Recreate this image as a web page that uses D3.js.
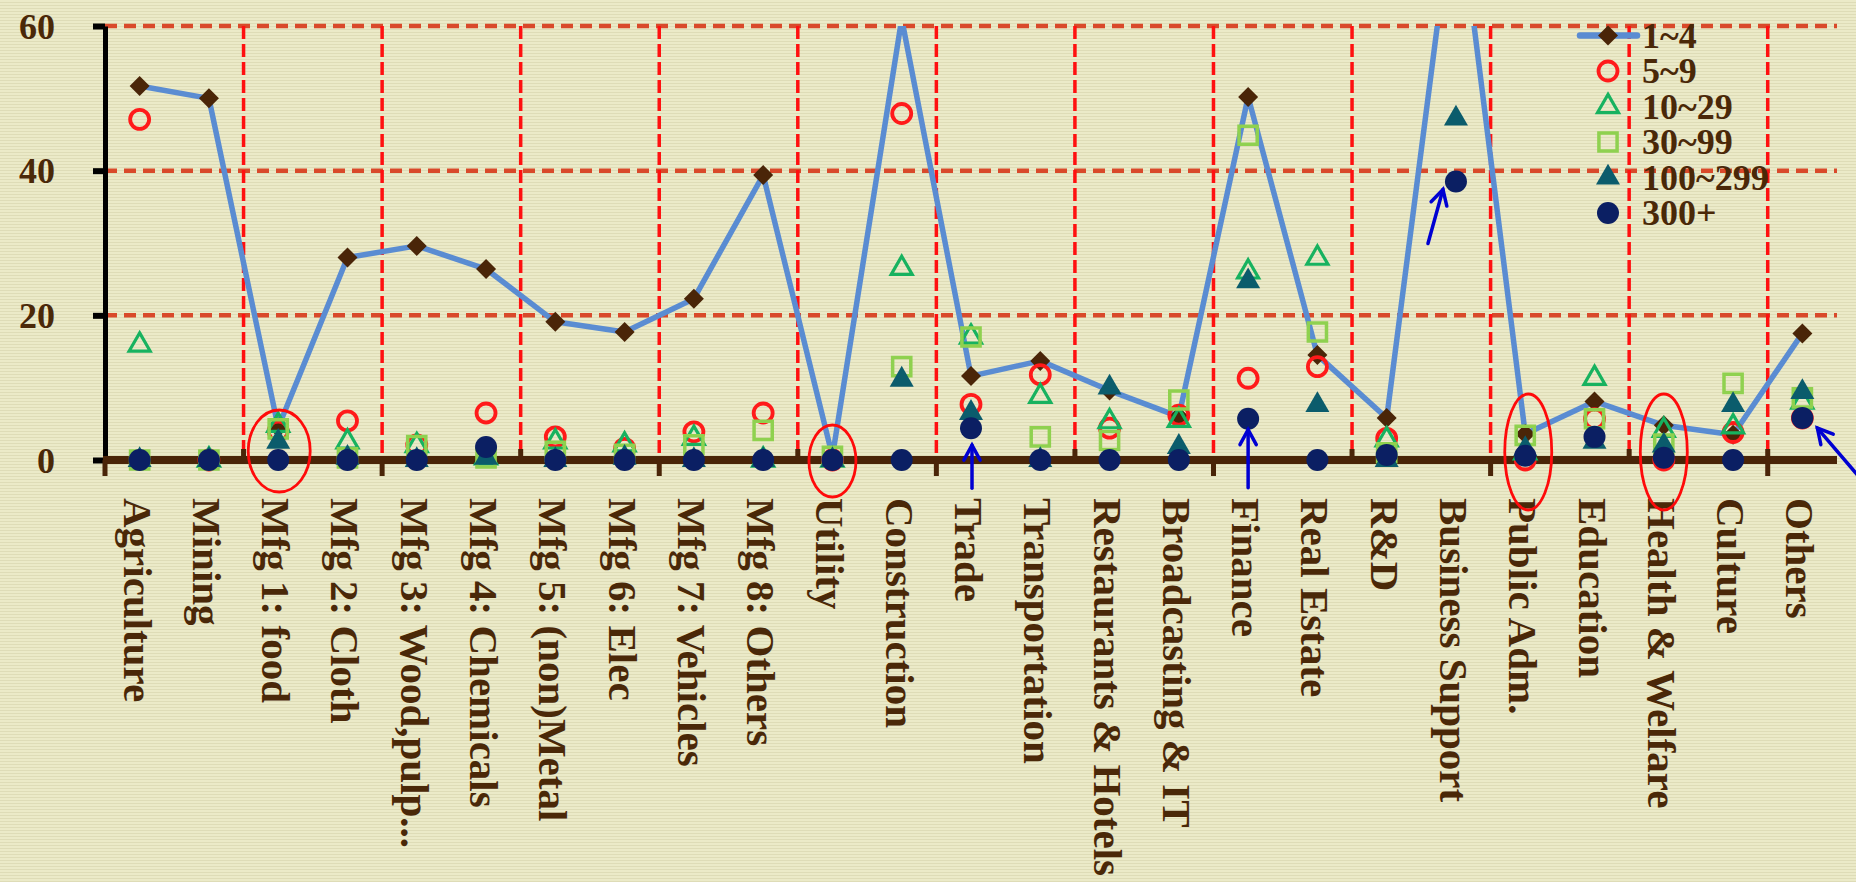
<!DOCTYPE html>
<html>
<head>
<meta charset="utf-8">
<script src="https://cdn.jsdelivr.net/npm/d3@7"></script>
<style>
  html, body { margin: 0; padding: 0; background: #eae9c7; }
  svg { display: block; }
  text { font-family: "Liberation Serif", "DejaVu Serif", serif; font-weight: bold; fill: #4a2808; }
</style>
</head>
<body>
<svg id="chart" width="1856" height="882"></svg>
<script>
// Industries on the x axis
const categories = [
  "Agriculture", "Mining", "Mfg 1: food", "Mfg 2: Cloth", "Mfg 3: Wood,pulp...",
  "Mfg 4: Chemicals", "Mfg 5: (non)Metal", "Mfg 6: Elec", "Mfg 7: Vehicles", "Mfg 8: Others",
  "Utility", "Construction", "Trade", "Transportation", "Restaurants & Hotels",
  "Broadcasting & IT", "Finance", "Real Estate", "R&D", "Business Support",
  "Public Adm.", "Education", "Health & Welfare", "Culture", "Others"
];

// Firm-size groups (number of employees)
const sizeGroups = ["1~4", "5~9", "10~29", "30~99", "100~299", "300+"];

// Values per industry for each size group
const share1to4     = [51.7, 50.0, 4.5, 28.0, 29.6, 26.4, 19.1, 17.7, 22.3, 39.4, 0.5, 61.0, 11.6, 13.7, 9.6, 6.0, 50.2, 14.5, 5.8, 80.0, 3.6, 8.1, 4.8, 3.5, 17.5];
const share5to9     = [47.1, 0, 4.0, 5.4, 2.1, 6.5, 3.2, 1.6, 3.9, 6.5, 0, 47.9, 7.7, 11.8, 4.4, 6.2, 11.3, 12.9, 3.0, 72.0, 0, 5.7, 0, 3.8, 5.8];
const share10to29   = [15.9, 0, 4.8, 2.5, 2.0, 0.3, 2.5, 2.1, 3.0, 0, 0, 26.5, 17.0, 8.8, 5.3, 5.5, 26.0, 27.9, 2.8, 68.0, 1.0, 11.3, 4.1, 4.6, 8.0];
const share30to99   = [0, 0, 4.3, 0.3, 2.0, 0.3, 1.2, 0.8, 2.1, 4.1, 0.5, 12.9, 17.0, 3.2, 2.7, 8.3, 44.9, 17.7, 1.0, 65.0, 3.4, 5.7, 2.2, 10.6, 8.6];
const share100to299 = [0, 0, 2.5, 0.3, 0, 0.3, 0, 0.3, 0, 0, 0, 11.1, 6.5, 0, 10.0, 1.8, 24.7, 7.6, 0, 47.2, 1.5, 2.5, 2.0, 7.6, 9.4];
const share300plus  = [0, 0, 0, 0, 0, 1.8, 0, 0, 0, 0, 0, 0, 4.4, 0, 0, 0, 5.7, 0, 0.7, 38.5, 0.6, 3.2, 0.3, 0, 5.8];

// Y axis ticks
const yTicks = [0, 20, 40, 60];

// Industries highlighted with a ring, and industries pointed at by an arrow
const circledIndustries = ["Mfg 1: food", "Utility", "Public Adm.", "Health & Welfare"];
const arrowIndustries = ["Trade", "Finance", "Business Support", "Others"];

// ---------------------------------------------------------------------------
const W = 1856, H = 882;
const svg = d3.select("#chart");
const defs = svg.append("defs");

const x = d3.scaleBand().domain(categories).range([105, 1837]).padding(0);
const y = d3.scaleLinear().domain([0, 60]).range([460, 26]);
const cx = c => x(c) + x.bandwidth() / 2;

// striped paper background
const pat = defs.append("pattern").attr("id", "stripes")
  .attr("patternUnits", "userSpaceOnUse").attr("width", 8).attr("height", 3);
pat.append("rect").attr("width", 8).attr("height", 3).attr("fill", "#ebeac8");
pat.append("rect").attr("y", 2).attr("width", 8).attr("height", 1).attr("fill", "#dedcb7");
svg.append("rect").attr("width", W).attr("height", H).attr("fill", "url(#stripes)");

defs.append("clipPath").attr("id", "plotClip")
  .append("rect").attr("x", 0).attr("y", y(60)).attr("width", W).attr("height", H);

// horizontal grid lines
svg.append("g").selectAll("line").data(yTicks.filter(d => d > 0)).join("line")
  .attr("x1", x.range()[0]).attr("x2", x.range()[1])
  .attr("y1", d => y(d)).attr("y2", d => y(d))
  .attr("stroke", "#d9492a").attr("stroke-width", 4.5).attr("stroke-dasharray", "12 7");

// vertical separators every two industries
const boundaries = d3.range(0, categories.length, 2);
svg.append("g").selectAll("line").data(boundaries.filter(i => i > 0)).join("line")
  .attr("x1", i => x(categories[i])).attr("x2", i => x(categories[i]))
  .attr("y1", y(60)).attr("y2", y(0))
  .attr("stroke", "#ff1010").attr("stroke-width", 3.5).attr("stroke-dasharray", "13 5");

// y axis
const yAxis = svg.append("g").attr("transform", `translate(${x.range()[0]},0)`)
  .call(d3.axisLeft(y).tickValues(yTicks).tickSize(12).tickSizeOuter(0).tickPadding(38).tickFormat(d3.format("d")));
yAxis.select(".domain").attr("stroke", "#000").attr("stroke-width", 5);
yAxis.selectAll(".tick line").attr("stroke", "#000").attr("stroke-width", 6);
yAxis.selectAll(".tick text").attr("font-size", 36).attr("dy", "0.34em");

// x axis: category labels written downwards
const xAxis = svg.append("g").attr("transform", `translate(0,${y(0)})`)
  .call(d3.axisBottom(x).tickSize(0).tickPadding(0));
xAxis.select(".domain").remove();
xAxis.selectAll(".tick text")
  .attr("font-size", 41).attr("text-anchor", "start")
  .attr("x", 0).attr("y", 16).attr("dy", null)
  .attr("transform", "translate(0,38) rotate(90)");

svg.append("line")
  .attr("x1", x.range()[0] - 2).attr("x2", x.range()[1])
  .attr("y1", y(0)).attr("y2", y(0))
  .attr("stroke", "#4a2508").attr("stroke-width", 8);

const xTicks = [];
boundaries.forEach(i => {
  xTicks.push({ i, dir: i % 4 === 0 ? 1 : -1 });
  if (i === boundaries[boundaries.length - 1] && i % 4 === 0) xTicks.push({ i, dir: -1 });
});
svg.append("g").selectAll("line").data(xTicks).join("line")
  .attr("x1", d => x(categories[d.i])).attr("x2", d => x(categories[d.i]))
  .attr("y1", y(0)).attr("y2", d => d.dir > 0 ? y(0) + 16 : y(0) - 11)
  .attr("stroke", "#4a2508").attr("stroke-width", 5);

// series definitions
const series = [
  { name: sizeGroups[0], values: share1to4, type: d3.symbolSquare, size: 200, rotate: 45, fill: "#4a2508", stroke: "none", sw: 0 },
  { name: sizeGroups[1], values: share5to9, type: d3.symbolCircle, size: 284, fill: "none", stroke: "#ff1a1a", sw: 3.8 },
  { name: sizeGroups[2], values: share10to29, type: d3.symbolTriangle, size: 191, fill: "none", stroke: "#17b25f", sw: 3.2 },
  { name: sizeGroups[3], values: share30to99, type: d3.symbolSquare, size: 330, fill: "none", stroke: "#8fd14f", sw: 3.5 },
  { name: sizeGroups[4], values: share100to299, type: d3.symbolTriangle, size: 250, fill: "#0b5c6c", stroke: "none", sw: 0 },
  { name: sizeGroups[5], values: share300plus, type: d3.symbolCircle, size: 380, fill: "#0b1f63", stroke: "none", sw: 0 }
];

const plot = svg.append("g").attr("clip-path", "url(#plotClip)");

// connecting line for the smallest size group
const line = d3.line().x((d, i) => cx(categories[i])).y(d => y(d));
plot.append("path").datum(share1to4)
  .attr("d", line).attr("fill", "none")
  .attr("stroke", "#5a8cd2").attr("stroke-width", 5.5)
  .attr("stroke-linejoin", "round").attr("stroke-linecap", "round");

// markers, smallest group first so the largest sits on top
series.forEach(s => {
  const pts = s.values.map((v, i) => ({ v, c: categories[i] })).filter(p => p.v <= y.domain()[1]);
  plot.append("g").selectAll("path").data(pts).join("path")
    .attr("d", d3.symbol().type(s.type).size(s.size))
    .attr("transform", p => `translate(${cx(p.c)},${y(p.v)})` + (s.rotate ? ` rotate(${s.rotate})` : ""))
    .attr("fill", s.fill).attr("stroke", s.stroke).attr("stroke-width", s.sw);
});

// legend
const legend = svg.append("g").attr("transform", "translate(1608,35.5)");
series.forEach((s, k) => {
  const row = legend.append("g").attr("transform", `translate(0,${k * 35.5})`);
  if (k === 0) {
    row.append("line").attr("x1", -28).attr("x2", 29).attr("y1", 0).attr("y2", 0)
      .attr("stroke", "#5a8cd2").attr("stroke-width", 6.5).attr("stroke-linecap", "round");
  }
  row.append("path")
    .attr("d", d3.symbol().type(s.type).size(s.size))
    .attr("transform", s.rotate ? `rotate(${s.rotate})` : null)
    .attr("fill", s.fill).attr("stroke", s.stroke).attr("stroke-width", s.sw);
  row.append("text").attr("x", 34).attr("dy", "0.34em").attr("font-size", 36).text(s.name);
});

// red rings around selected industries
const ringShape = {
  "Mfg 1: food": { dx: 1, dy: -9, rx: 31, ry: 41 },
  "Utility": { dx: 0, dy: 1, rx: 23.5, ry: 36 },
  "Public Adm.": { dx: 3, dy: -8, rx: 23.5, ry: 58 },
  "Health & Welfare": { dx: 0, dy: -8, rx: 23.5, ry: 58 }
};
svg.append("g").selectAll("ellipse").data(circledIndustries).join("ellipse")
  .attr("cx", c => cx(c) + ringShape[c].dx).attr("cy", c => y(0) + ringShape[c].dy)
  .attr("rx", c => ringShape[c].rx).attr("ry", c => ringShape[c].ry)
  .attr("fill", "none").attr("stroke", "#ff0a0a").attr("stroke-width", 2.8);

// blue arrows pointing at the largest-size markers
const arrowShape = {
  "Trade": { tip: [1, 17], tail: [1, 60] },
  "Finance": { tip: [0, 11], tail: [0, 69] },
  "Business Support": { tip: [-13, 8], tail: [-28, 62] },
  "Others": { tip: [15, 10], tail: [56, 58] }
};
const arrows = svg.append("g").attr("stroke", "#0000d2").attr("stroke-width", 3.5)
  .attr("stroke-linecap", "round").attr("fill", "none");
arrowIndustries.forEach(c => {
  const i = categories.indexOf(c);
  const px = cx(c), py = y(share300plus[i]);
  const a = arrowShape[c];
  const tx = px + a.tip[0], ty = py + a.tip[1];
  const bx = px + a.tail[0], by = py + a.tail[1];
  const ang = Math.atan2(ty - by, tx - bx);
  const L = 17, spread = 0.5;
  arrows.append("line").attr("x1", bx).attr("y1", by).attr("x2", tx).attr("y2", ty);
  arrows.append("path").attr("d",
    `M${tx - L * Math.cos(ang - spread)},${ty - L * Math.sin(ang - spread)}L${tx},${ty}L${tx - L * Math.cos(ang + spread)},${ty - L * Math.sin(ang + spread)}`);
});
</script>
</body>
</html>
